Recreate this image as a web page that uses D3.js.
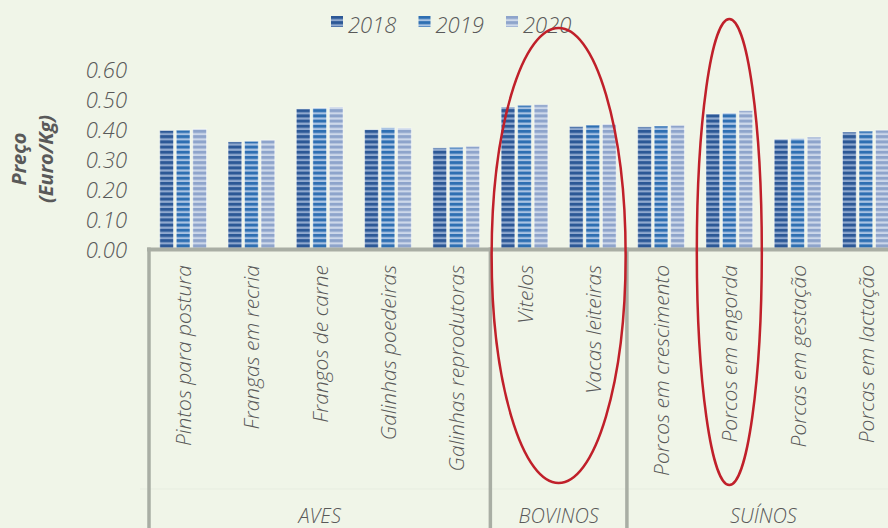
<!DOCTYPE html>
<html>
<head>
<meta charset="utf-8">
<script src="https://cdn.jsdelivr.net/npm/d3@7"></script>
<style>
  body { margin: 0; background: #f0f5e8; }
  svg { display: block; }
  text { font-family: "Open Sans", sans-serif; fill: #595959; }
</style>
</head>
<body>
<div id="chart"></div>
<script>
const categories = [
    "Pintos para postura", "Frangas em recria", "Frangos de carne", "Galinhas poedeiras",
    "Galinhas reprodutoras", "Vitelos", "Vacas leiteiras", "Porcos em crescimento",
    "Porcos em engorda", "Porcas em gestação", "Porcas em lactação"
];
const groups = [
    {name: "AVES", from: 0, to: 4},
    {name: "BOVINOS", from: 5, to: 6},
    {name: "SUÍNOS", from: 7, to: 10}
];
const years = ["2018", "2019", "2020"];
const values2018 = [0.400, 0.362, 0.472, 0.403, 0.342, 0.478, 0.413, 0.412, 0.455, 0.371, 0.395];
const values2019 = [0.401, 0.364, 0.475, 0.409, 0.344, 0.484, 0.418, 0.415, 0.458, 0.373, 0.398];
const values2020 = [0.405, 0.368, 0.478, 0.408, 0.347, 0.486, 0.421, 0.417, 0.466, 0.378, 0.401];
const yTicks = [0, 0.1, 0.2, 0.3, 0.4, 0.5, 0.6];
const highlighted = [["Vitelos", "Vacas leiteiras"], ["Porcos em engorda"]];

const seriesValues = {"2018": values2018, "2019": values2019, "2020": values2020};

const width = 888, height = 528;
const svg = d3.select("#chart").append("svg")
    .attr("width", width)
    .attr("height", height);

// Striped fills, one per year
const stripes = {
    "2018": {dark: "#2c5896", light: "#90a9cf"},
    "2019": {dark: "#2e6fb2", light: "#a9c3e3"},
    "2020": {dark: "#8ea4cb", light: "#cdd8ea"}
};
const defs = svg.append("defs");
years.forEach(y => {
    const p = defs.append("pattern")
        .attr("id", `stripe-${y}`)
        .attr("patternUnits", "userSpaceOnUse")
        .attr("width", 10)
        .attr("height", 5.2);
    p.append("rect").attr("width", 10).attr("height", 5.2).attr("fill", stripes[y].light);
    p.append("rect").attr("width", 10).attr("height", 3).attr("fill", stripes[y].dark);
});

// Scales
const x = d3.scaleBand()
    .domain(categories)
    .range([149, 900])
    .paddingInner(0.316)
    .paddingOuter(0.158);

const x1 = d3.scaleBand()
    .domain(years)
    .range([0, x.bandwidth()])
    .paddingInner(0.17);

const y = d3.scaleLinear()
    .domain([0, 0.6])
    .range([250.5, 70.5]);

// Faint separator between label rows
svg.append("line")
    .attr("x1", 140).attr("x2", width)
    .attr("y1", 489).attr("y2", 489)
    .attr("stroke", "#e7ede0")
    .attr("stroke-width", 1);

// Bars
const barGroups = svg.selectAll(".cat")
    .data(categories)
    .enter().append("g")
    .attr("class", "cat")
    .attr("transform", d => `translate(${x(d)},0)`);

barGroups.selectAll("rect")
    .data((d, i) => years.map(yr => ({year: yr, value: seriesValues[yr][i]})))
    .enter().append("rect")
    .attr("x", d => x1(d.year))
    .attr("y", d => y(d.value))
    .attr("width", x1.bandwidth())
    .attr("height", d => y(0) - y(d.value))
    .attr("fill", d => `url(#stripe-${d.year})`)
    .attr("stroke", "rgba(255,255,255,0.45)")
    .attr("stroke-width", 1);

// Y axis labels
svg.append("g")
    .selectAll("text")
    .data(yTicks)
    .enter().append("text")
    .attr("x", 127)
    .attr("y", d => y(d))
    .attr("dy", "0.35em")
    .attr("text-anchor", "end")
    .style("font-size", "22px")
    .style("font-style", "italic")
    .style("font-weight", 300)
    .text(d3.format(".2f"));

// Y title
const yTitle = svg.append("text")
    .attr("transform", "translate(0,159) rotate(-90)")
    .attr("text-anchor", "middle")
    .style("font-size", "20px")
    .style("font-style", "italic")
    .style("font-weight", "bold");
yTitle.append("tspan").attr("x", 0).attr("y", 26).text("Preço");
yTitle.append("tspan").attr("x", 0).attr("y", 53).text("(Euro/Kg)");

// Axis frame: baseline and group dividers
const lineColor = "#a9aea4";
svg.append("line")
    .attr("x1", 147).attr("x2", width)
    .attr("y1", y(0) - 1).attr("y2", y(0) - 1)
    .attr("stroke", lineColor)
    .attr("stroke-width", 4);

const step = x.step();
const dividers = [x.range()[0]].concat(groups.slice(1).map(g => x(categories[g.from]) - x.paddingInner() * step / 2));
svg.selectAll(".divider")
    .data(dividers)
    .enter().append("line")
    .attr("class", "divider")
    .attr("x1", d => d).attr("x2", d => d)
    .attr("y1", y(0) - 3).attr("y2", height)
    .attr("stroke", lineColor)
    .attr("stroke-width", 3.5);

// Category labels (rotated)
svg.selectAll(".catlabel")
    .data(categories)
    .enter().append("text")
    .attr("class", "catlabel")
    .attr("transform", d => `translate(${x(d) + x.bandwidth() / 2 + 8},265) rotate(-90)`)
    .attr("text-anchor", "end")
    .style("font-size", "21px")
    .style("font-style", "italic")
    .style("font-weight", 300)
    .text(d => d);

// Group labels
svg.selectAll(".grouplabel")
    .data(groups)
    .enter().append("text")
    .attr("class", "grouplabel")
    .attr("x", g => {
        const a = x(categories[g.from]) - x.paddingInner() * step / 2;
        const b = x(categories[g.to]) + x.bandwidth() + x.paddingInner() * step / 2;
        return (a + b) / 2;
    })
    .attr("y", 523)
    .attr("text-anchor", "middle")
    .style("font-size", "20px")
    .style("font-style", "italic")
    .style("font-weight", 300)
    .text(g => g.name);

// Legend
const legend = svg.selectAll(".legend")
    .data(years)
    .enter().append("g")
    .attr("class", "legend")
    .attr("transform", (d, i) => `translate(${331 + i * 87.5},16)`);

legend.append("rect")
    .attr("width", 12)
    .attr("height", 11)
    .attr("fill", d => `url(#stripe-${d})`);

legend.append("text")
    .attr("x", 17)
    .attr("y", 17)
    .style("font-size", "22px")
    .style("font-style", "italic")
    .style("font-weight", 300)
    .text(d => d);

// Red highlight ellipses
svg.selectAll(".highlight")
    .data(highlighted)
    .enter().append("ellipse")
    .attr("class", "highlight")
    .attr("cx", d => (x(d[0]) + x(d[d.length - 1]) + x.bandwidth()) / 2)
    .attr("cy", d => d.length > 1 ? 255.5 : 252)
    .attr("rx", d => d.length > 1 ? 67 : 32.5)
    .attr("ry", d => d.length > 1 ? 227.5 : 233)
    .attr("fill", "none")
    .attr("stroke", "#c0202a")
    .attr("stroke-width", 2.5);
</script>
</body>
</html>
